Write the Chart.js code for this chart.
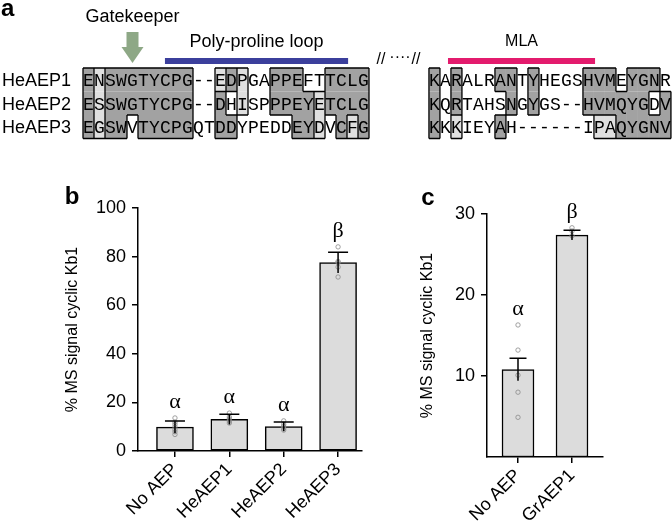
<!DOCTYPE html>
<html>
<head>
<meta charset="utf-8">
<script src="https://cdn.jsdelivr.net/npm/chart.js@4.4.0/dist/chart.umd.min.js"></script>
<style>
html, body { margin: 0; padding: 0; background: #fff; }
#wrap { position: relative; width: 672px; height: 525px; overflow: hidden; }
canvas { position: absolute; }
</style>
</head>
<body>
<div id="wrap">
  <canvas id="chartA" width="672" height="160" style="left:0;top:0;width:672px;height:160px"></canvas>
  <canvas id="chartB" width="380" height="365" style="left:0;top:160px;width:380px;height:365px"></canvas>
  <canvas id="chartC" width="272" height="365" style="left:400px;top:160px;width:272px;height:365px"></canvas>
</div>
<script>
// ---- panel a : alignment ----
const rowNames = ['HeAEP1', 'HeAEP2', 'HeAEP3'];
const seqLeft = ['ENSWGTYCPG--EDPGAPPEFTTCLG', 'ESSWGTYCPG--DHISPPPEYETCLG', 'EGSWVTYCPGQTDDYPEDDEYDVCFG'];
const seqRight = ['KARALRANTYHEGSHVMEYGNR', 'KQRTAHSNGYGS--HVMQYGDV', 'KKKIEYAH------IPAQYGNV'];
// d = identical (dark), l = similar (light), w = unshaded
const shadeLeft = ['dlddddddddwwldlwwdddwwdddd', 'dlddddddddwwdwlwwddddldddd', 'dlddwdddddwwddwwwwwddlwdld'];
const shadeRight = ['dwdwwwddwdwwwwdddwdddw', 'dwdwwwwdwdwwwwddddddwd', 'dwlwwwdwwwwwwwwllddddd'];

// ---- panel b ----
const catsB = ['No AEP', 'HeAEP1', 'HeAEP2', 'HeAEP3'];
const meansB = [9.8, 13.0, 10.0, 77.5];
const semB = [2.5, 2.1, 1.9, 4.3];
const pointsB = [
    [13.6, 11.8, 10.9, 9.9, 8.8, 7.9, 6.8],
    [15.6, 14.0, 13.2, 12.3, 11.5],
    [12.4, 11.0, 10.2, 9.3, 8.6],
    [84.0, 78.0, 77.5, 75.7, 71.6]
];
const sigB = ['α', 'α', 'α', 'β'];
const ticksB = [0, 20, 40, 60, 80, 100];

// ---- panel c ----
const catsC = ['No AEP', 'GrAEP1'];
const meansC = [10.8, 27.4];
const semC = [1.4, 0.6];
const pointsC = [
    [16.3, 13.2, 10.1, 8.0, 4.9],
    [28.3, 27.9, 27.3]
];
const sigC = ['α', 'β'];
const ticksC = [10, 20, 30];

const yTitle = '% MS signal cyclic Kb1';

Chart.defaults.font.family = '"Liberation Sans", Arial, sans-serif';
Chart.defaults.color = '#000';

const rightStart = 31.45; // column where the second block begins

const alignPlugin = {
    id: 'align',
    afterDraw(chart) {
        const {ctx, scales: {x, y}} = chart;
        ctx.save();
        const fills = {d: '#a2a2a2', l: '#dfdfdf'};
        const blocks = [{off: 0, seq: seqLeft, sh: shadeLeft}, {off: rightStart, seq: seqRight, sh: shadeRight}];
        blocks.forEach(b => {
            const n = b.sh[0].length;
            const cls = (r, c) => (r < 0 || r >= b.sh.length || c < 0 || c >= n) ? 'w' : b.sh[r][c];
            const px = c => x.getPixelForValue(b.off + c);
            const py = r => y.getPixelForValue(r);
            for (let r = 0; r < b.sh.length; r++) {
                for (let c = 0; c < n; c++) {
                    const k = cls(r, c);
                    if (k === 'w') continue;
                    ctx.fillStyle = fills[k];
                    ctx.fillRect(px(c), py(r), px(c + 1) - px(c), py(r + 1) - py(r));
                }
            }
            ctx.strokeStyle = '#000';
            ctx.lineWidth = 1.3;
            ctx.beginPath();
            for (let r = 0; r < b.sh.length; r++) {
                for (let c = -1; c < n; c++) {
                    if (cls(r, c) !== cls(r, c + 1)) {
                        ctx.moveTo(px(c + 1), py(r));
                        ctx.lineTo(px(c + 1), py(r + 1));
                    }
                }
            }
            for (let r = -1; r < b.sh.length; r++) {
                for (let c = 0; c < n; c++) {
                    if (cls(r, c) !== cls(r + 1, c)) {
                        ctx.moveTo(px(c), py(r + 1));
                        ctx.lineTo(px(c + 1), py(r + 1));
                    }
                }
            }
            ctx.stroke();
            ctx.fillStyle = '#000';
            ctx.font = '18px "Liberation Mono", monospace';
            ctx.textAlign = 'center';
            ctx.textBaseline = 'middle';
            b.seq.forEach((s, r) => {
                for (let c = 0; c < s.length; c++) {
                    ctx.fillText(s[c], (px(c) + px(c + 1)) / 2, (py(r) + py(r + 1)) / 2 + 1.5);
                }
            });
        });

        // row names
        ctx.font = '18px "Liberation Sans", Arial';
        ctx.textAlign = 'left';
        rowNames.forEach((nm, r) => {
            ctx.fillText(nm, 2, (y.getPixelForValue(r) + y.getPixelForValue(r + 1)) / 2 + 1.5);
        });

        // panel letter
        ctx.font = 'bold 24px "Liberation Sans", Arial';
        ctx.fillText('a', 1, 9);

        // gatekeeper arrow
        const gx = x.getPixelForValue(4.5);
        ctx.font = '18px "Liberation Sans", Arial';
        ctx.textAlign = 'center';
        ctx.fillText('Gatekeeper', gx, 17);
        ctx.fillStyle = '#8ea886';
        ctx.beginPath();
        ctx.moveTo(gx - 6, 32);
        ctx.lineTo(gx + 6, 32);
        ctx.lineTo(gx + 6, 47);
        ctx.lineTo(gx + 11, 47);
        ctx.lineTo(gx, 63);
        ctx.lineTo(gx - 11, 47);
        ctx.lineTo(gx - 6, 47);
        ctx.closePath();
        ctx.fill();

        // poly-proline loop
        const p0 = x.getPixelForValue(7.45), p1 = x.getPixelForValue(24.1);
        ctx.fillStyle = '#3b3f9c';
        ctx.fillRect(p0, 58, p1 - p0, 6);
        ctx.fillStyle = '#000';
        ctx.fillText('Poly-proline loop', (p0 + p1) / 2, 42);

        // MLA
        const m0 = x.getPixelForValue(rightStart + 1.73), m1 = x.getPixelForValue(rightStart + 15.1);
        ctx.fillStyle = '#e31b6d';
        ctx.fillRect(m0, 58, m1 - m0, 6);
        ctx.fillStyle = '#000';
        ctx.font = '16px "Liberation Sans", Arial';
        ctx.fillText('MLA', (m0 + m1) / 2, 42);

        // gap marks
        ctx.font = '16px "Liberation Sans", Arial';
        ctx.fillText('//', 381, 60);
        ctx.fillText('····', 400, 58);
        ctx.fillText('//', 416, 60);
        ctx.restore();
    }
};

new Chart(document.getElementById('chartA').getContext('2d'), {
    type: 'scatter',
    data: {datasets: []},
    options: {
        responsive: false,
        animation: false,
        layout: {padding: {left: 83, right: 0.5, top: 68, bottom: 21.5}},
        scales: {
            x: {type: 'linear', min: 0, max: 53.5, display: false},
            y: {type: 'linear', min: 0, max: 3, reverse: true, display: false}
        },
        plugins: {legend: {display: false}, tooltip: {enabled: false}}
    },
    plugins: [alignPlugin]
});

// ---- bar panels ----
function barPanel(id, cats, means, sems, pts, sig, yTicks, set) {
    const errPlugin = {
        id: 'errs',
        afterDatasetsDraw(chart) {
            const {ctx, scales: {x, y}} = chart;
            ctx.save();
            ctx.strokeStyle = '#000';
            ctx.lineWidth = 1.5;
            means.forEach((m, i) => {
                const px = x.getPixelForValue(i);
                const top = y.getPixelForValue(m + sems[i]);
                const bot = y.getPixelForValue(m - sems[i]);
                ctx.beginPath();
                ctx.moveTo(px, bot);
                ctx.lineTo(px, top);
                ctx.moveTo(px - set.capW / 2, top);
                ctx.lineTo(px + set.capW / 2, top);
                ctx.stroke();
            });
            ctx.fillStyle = '#000';
            ctx.font = '22px "Liberation Serif", serif';
            ctx.textAlign = 'center';
            ctx.textBaseline = 'middle';
            sig.forEach((s, i) => {
                const hi = Math.max(means[i] + sems[i], ...pts[i]);
                ctx.fillText(s, x.getPixelForValue(i), y.getPixelForValue(hi) - 16);
            });
            ctx.font = 'bold 24px "Liberation Sans", Arial';
            ctx.fillText(set.letter, set.letterX, set.letterY);
            ctx.restore();
        }
    };

    new Chart(document.getElementById(id).getContext('2d'), {
        data: {
            datasets: [
                {
                    type: 'bar',
                    data: means.map((m, i) => ({x: i, y: m})),
                    backgroundColor: '#dcdcdc',
                    borderColor: '#000',
                    borderWidth: 1.5,
                    borderSkipped: false,
                    barThickness: set.barW,
                    order: 2
                },
                {
                    type: 'scatter',
                    data: pts.flatMap((arr, i) => arr.map(v => ({x: i, y: v}))),
                    pointRadius: 2.2,
                    pointBorderWidth: 0.8,
                    pointBorderColor: '#8a8a8a',
                    pointBackgroundColor: 'rgba(0,0,0,0)',
                    order: 1
                }
            ]
        },
        options: {
            responsive: false,
            animation: false,
            layout: {padding: set.pad},
            scales: {
                x: {
                    type: 'linear',
                    min: set.xMin,
                    max: set.xMax,
                    offset: false,
                    afterBuildTicks: s => { s.ticks = cats.map((c, i) => ({value: i})); },
                    afterFit: s => { s.height = set.xH; },
                    ticks: {
                        callback: v => cats[v],
                        minRotation: 45,
                        maxRotation: 45,
                        padding: 2,
                        font: {size: 18}
                    },
                    grid: {offset: false, drawOnChartArea: false, drawTicks: true, tickLength: 6, color: '#000', lineWidth: 1.5},
                    border: {display: true, color: '#000', width: 1.5}
                },
                y: {
                    type: 'linear',
                    min: 0,
                    max: yTicks[yTicks.length - 1],
                    afterBuildTicks: s => { s.ticks = yTicks.map(v => ({value: v})); },
                    afterFit: s => { s.width = set.yW; },
                    ticks: {padding: 6, font: {size: 18}},
                    grid: {drawOnChartArea: false, drawTicks: true, tickLength: 6, color: '#000', lineWidth: 1.5},
                    border: {display: true, color: '#000', width: 1.5},
                    title: {display: true, text: yTitle, font: {size: 16}, padding: 0}
                }
            },
            plugins: {legend: {display: false}, tooltip: {enabled: false}}
        },
        plugins: [errPlugin]
    });
}

barPanel('chartB', catsB, meansB, semB, pointsB, sigB, ticksB, {
    xMin: -0.68, xMax: 3.44, barW: 37, capW: 20,
    pad: {left: 63.4, top: 48, right: 18, bottom: 0},
    yW: 74.6, xH: 74, letter: 'b', letterX: 72, letterY: 37
});

barPanel('chartC', catsC, meansC, semC, pointsC, sigC, ticksC, {
    xMin: -0.574, xMax: 1.574, barW: 32, capW: 17,
    pad: {left: 18.4, top: 54, right: 69, bottom: 0},
    yW: 68.6, xH: 68, letter: 'c', letterX: 28, letterY: 38
});
</script>
</body>
</html>
